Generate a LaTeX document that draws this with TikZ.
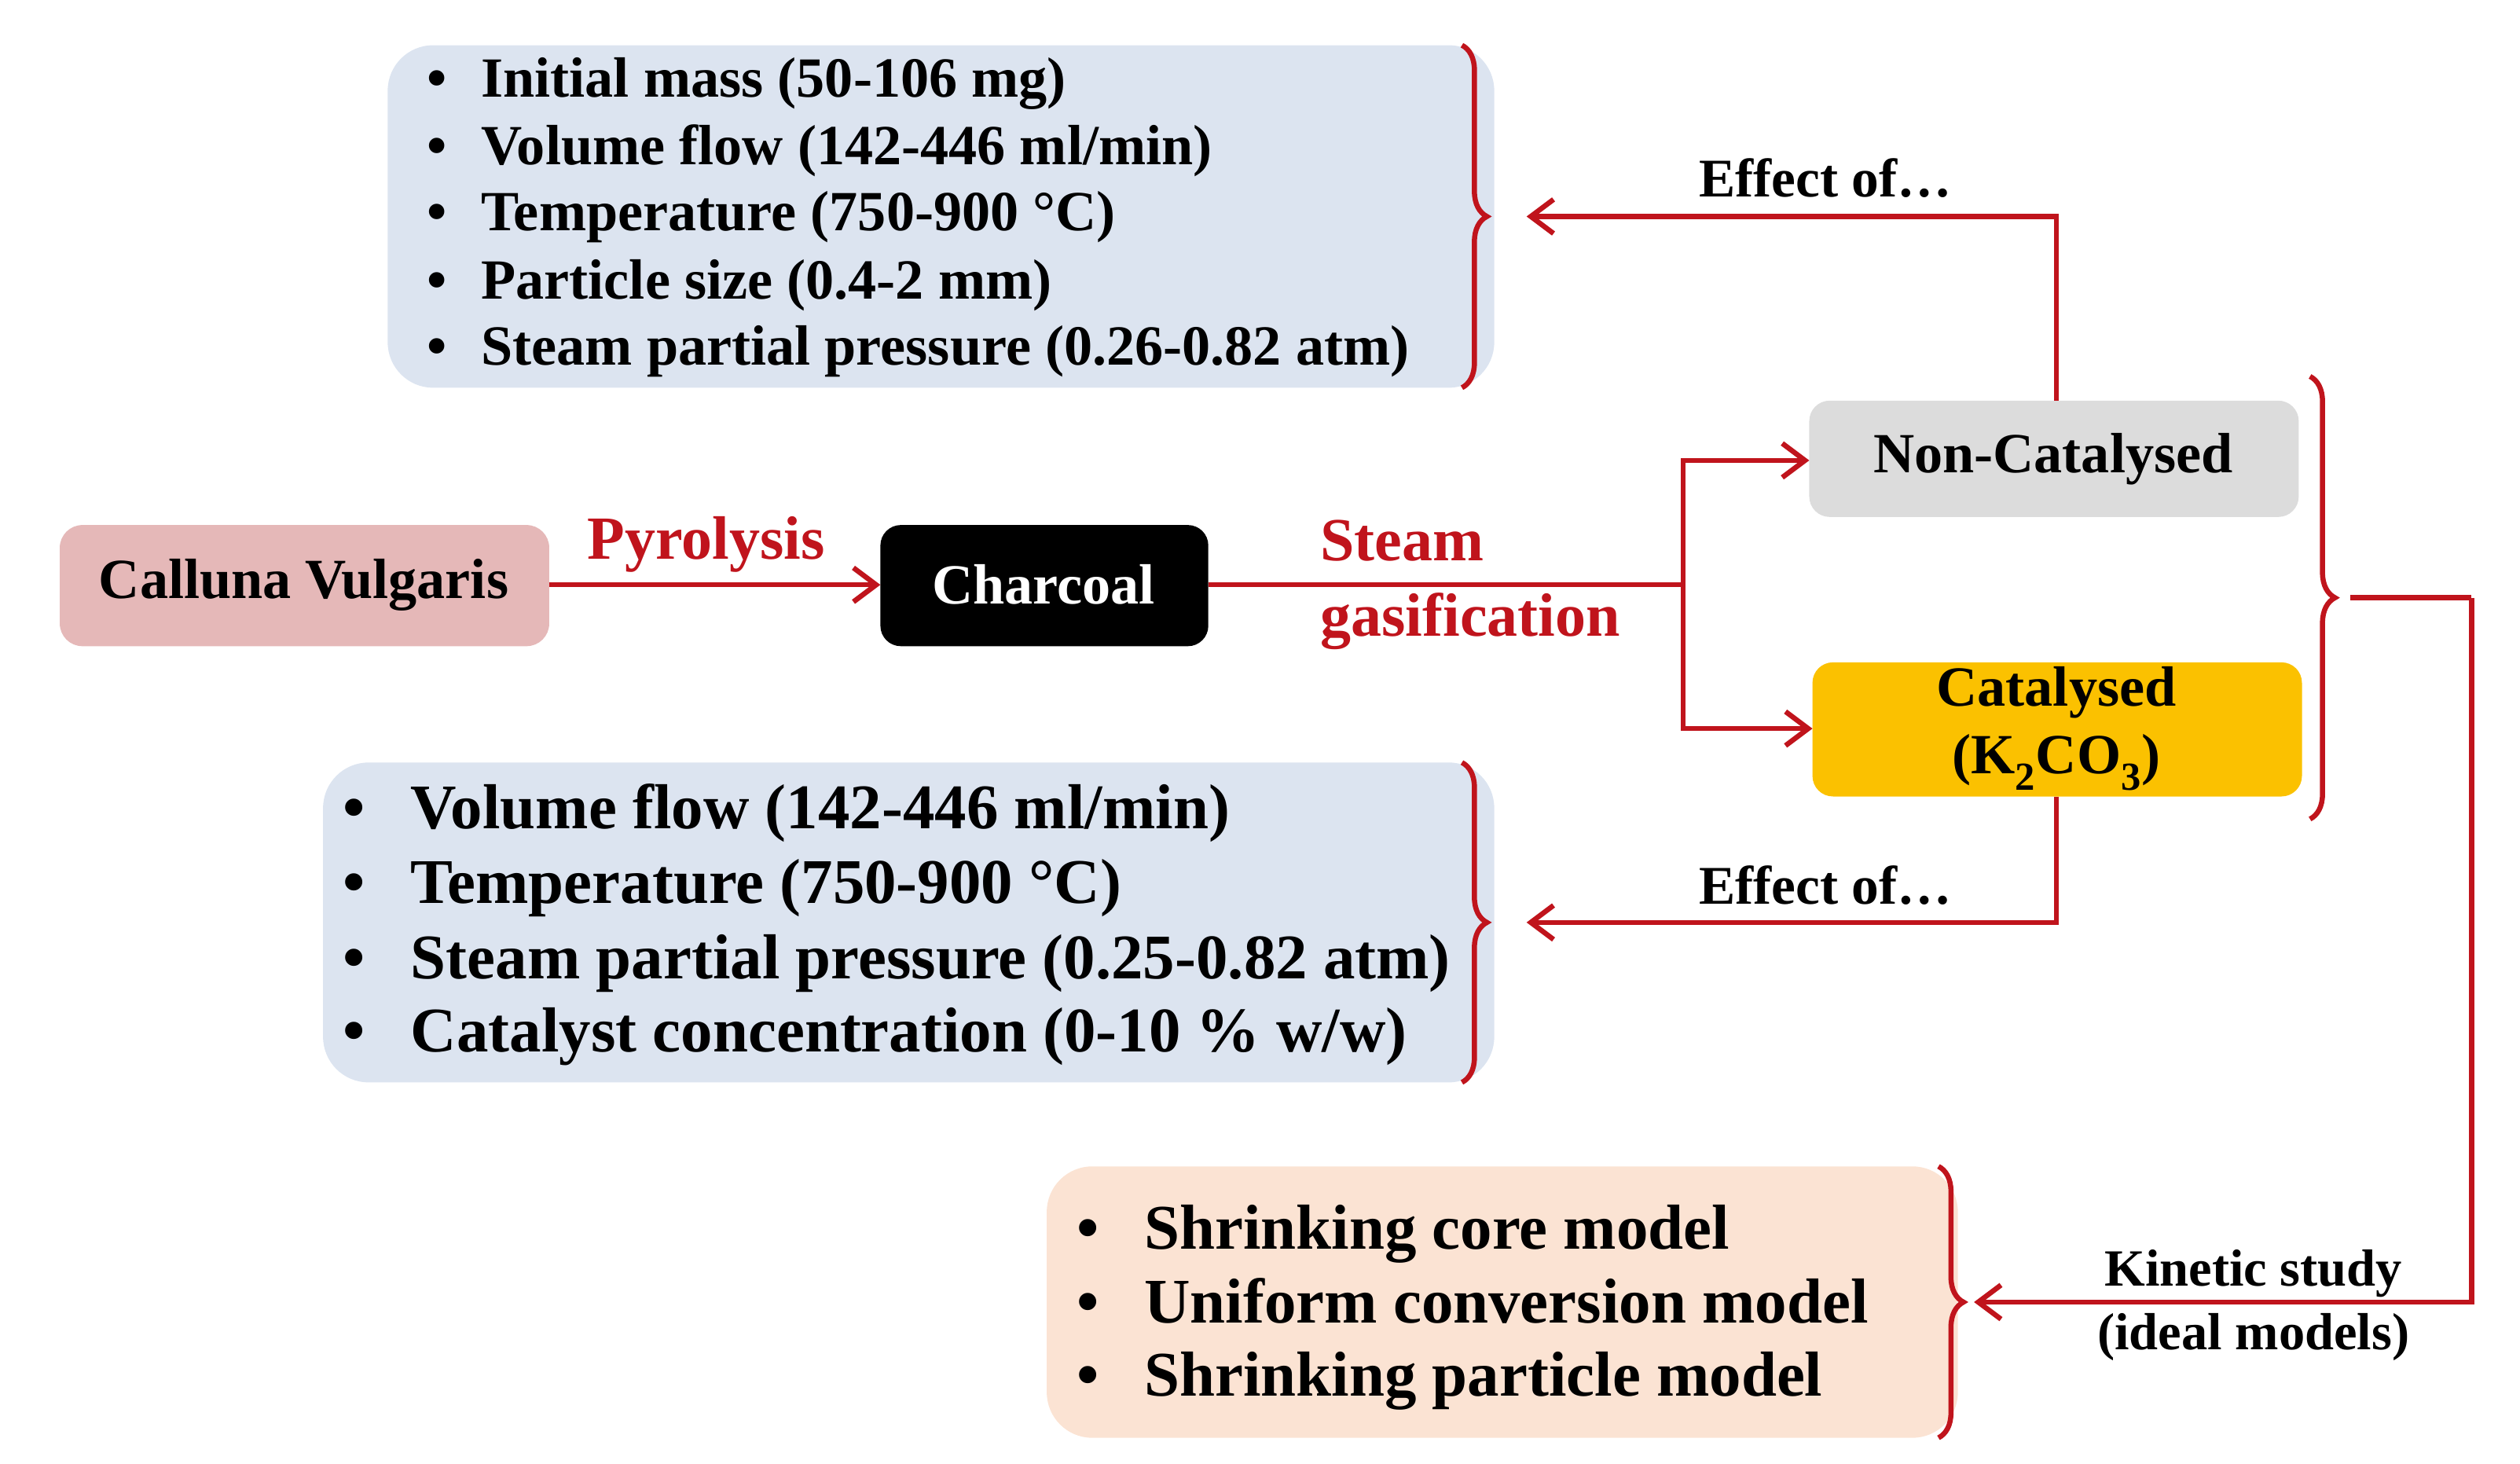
\documentclass[tikz,border=0pt]{standalone}
\usepackage{fontspec}
\setmainfont{Liberation Serif}
\usetikzlibrary{decorations.pathreplacing,arrows.meta}
\definecolor{rd}{HTML}{C0141C}
\definecolor{bl}{HTML}{DCE4F0}
\definecolor{pk}{HTML}{E5B8B8}
\definecolor{gy}{HTML}{DCDCDC}
\definecolor{gd}{HTML}{FBC100}
\definecolor{pc}{HTML}{FBE3D3}
\begin{document}
\begin{tikzpicture}[x=0.05cm,y=-0.05cm,
  conn/.style={rd,line width=4.5pt},
  arr/.style={conn,-{Straight Barb[length=20pt,width=30pt]}},
  brc/.style={rd,line width=4.5pt,decorate,decoration={brace,amplitude=22pt}},
  lbl/.style={font=\fontsize{50}{58}\selectfont\bfseries},
  rlbl/.style={lbl,text=rd,align=left},
  item/.style={anchor=base west,font=\fontsize{50}{58}\selectfont\bfseries},
  item2/.style={anchor=base west,font=\fontsize{56}{64}\selectfont\bfseries}]
\useasboundingbox (0,0) rectangle (1560,906);
% top box
\fill[bl,rounded corners=40pt] (240,28) rectangle (925,240);
\foreach \y/\t [count=\i] in {50/{Initial mass (50-106 mg)},92/{Volume flow (142-446 ml/min)},133/{Temperature (750-900 °C)},175/{Particle size (0.4-2 mm)},216/{Steam partial pressure (0.26-0.82 atm)}}{
  \node[item] (t\i) at (262,\y+10) {\textbullet\hspace{30pt}\t};}
\draw[brc] (905,28) -- (905,240);
\coordinate (tb) at (945,134);
% bottom blue box
\fill[bl,rounded corners=40pt] (200,472) rectangle (925,670);
\foreach \y/\t [count=\i] in {502/{Volume flow (142-446 ml/min)},548/{Temperature (750-900 °C)},595/{Steam partial pressure (0.25-0.82 atm)},640/{Catalyst concentration (0-10 \% w/w)}}{
  \node[item2] (b\i) at (210,\y+11) {\textbullet\hspace{40pt}\t};}
\draw[brc] (905,472) -- (905,670);
\coordinate (bb) at (945,571);
% peach box
\fill[pc,rounded corners=40pt] (648,722) rectangle (1212,890);
\foreach \y/\t [count=\i] in {762/{Shrinking core model},808/{Uniform conversion model},853/{Shrinking particle model}}{
  \node[item2] (p\i) at (664,\y+11) {\textbullet\hspace{40pt}\t};}
\draw[brc] (1200,722) -- (1200,890);
\coordinate (pb) at (1222,806);
% main nodes
\fill[pk,rounded corners=20pt] (37,325) rectangle (340,400);
\node[lbl] (cvt) at (188,362) {Calluna Vulgaris};
\fill[black,rounded corners=18pt] (545,325) rectangle (748,400);
\node[lbl,text=white] (ch) at (646,362) {Charcoal};
\fill[gy,rounded corners=18pt] (1120,248) rectangle (1423,320);
\node[lbl] (nc) at (1271,284) {Non-Catalysed};
\fill[gd,rounded corners=18pt] (1122,410) rectangle (1425,493);
\node[lbl,align=center,font=\fontsize{50}{60}\selectfont\bfseries] (ca) at (1273,451) {Catalysed\\(K\textsubscript{2}CO\textsubscript{3})};
\coordinate (cvE) at (340,362);
\coordinate (chW) at (545,362);
\coordinate (chE) at (748,362);
\coordinate (sp) at (1042,362);
\coordinate (ncW) at (1120,285);
\coordinate (caW) at (1122,451);
\coordinate (ncS) at (1273,248);
\coordinate (caS) at (1273,493);
\draw[arr] (cvE) -- (chW);
\node[rlbl,font=\fontsize{54}{60}\selectfont\bfseries] (py) at (437,337) {Pyrolysis};
\draw[conn] (chE) -- (sp);
\draw[arr] (sp) |- (ncW);
\draw[arr] (sp) |- (caW);
\node[rlbl,anchor=west,font=\fontsize{54}{66}\selectfont\bfseries] (sg) at (815,362) {Steam\\gasification};
\draw[arr] (ncS) |- (tb);
\node[lbl,font=\fontsize{48}{56}\selectfont\bfseries] (e1) at (1130,110) {Effect of…};
\draw[arr] (caS) |- (bb);
\node[lbl,font=\fontsize{48}{56}\selectfont\bfseries] (e2) at (1130,548) {Effect of…};
% right bracket
\draw[brc] (1430,233) -- (1430,507);
\coordinate (rb) at (1455,370);
\coordinate (rc) at (1530,370);
\draw[conn] (rb) -- (rc);
\draw[arr] (rc) |- (pb);
\node[lbl,align=center,font=\fontsize{46}{56}\selectfont\bfseries] (ks) at (1395,808) {Kinetic study\\(ideal models)};
\end{tikzpicture}
\end{document}
